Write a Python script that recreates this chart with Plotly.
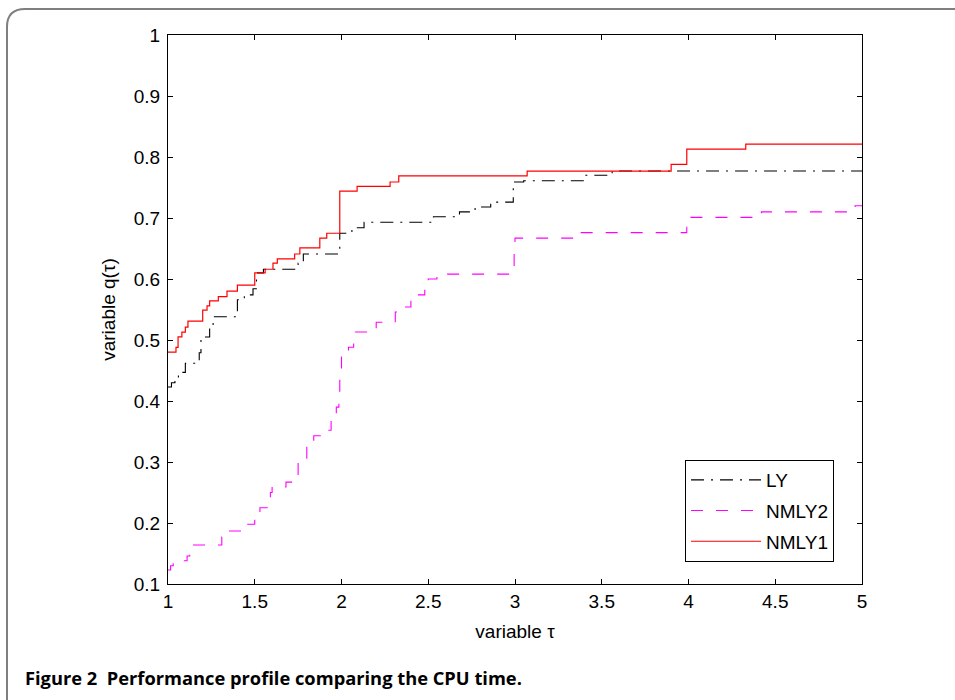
import plotly.graph_objects as go

# ---- data ----
ly_x = [1.0, 1.02, 1.04, 1.06, 1.10, 1.18, 1.19, 1.24, 1.26, 1.40, 1.44, 1.49, 1.51, 1.55,
        1.75, 1.78, 1.99, 2.06, 2.13, 2.53, 2.68, 2.77, 2.86, 2.99, 3.05, 3.40, 3.56, 5.0]
ly_y = [0.423, 0.430, 0.434, 0.447, 0.462, 0.479, 0.505, 0.520, 0.538, 0.566, 0.574, 0.584,
        0.610, 0.616, 0.626, 0.641, 0.675, 0.684, 0.693, 0.702, 0.710, 0.718, 0.726, 0.759,
        0.761, 0.770, 0.777, 0.777]

nmly2_x = [1.0, 1.015, 1.03, 1.11, 1.125, 1.14, 1.31, 1.34, 1.425, 1.50, 1.53, 1.59, 1.60,
           1.68, 1.75, 1.80, 1.84, 1.915, 1.94, 1.97, 1.985, 1.99, 2.0, 2.04, 2.07, 2.08,
           2.20, 2.31, 2.36, 2.40, 2.48, 2.50, 2.55, 2.995, 3.0, 3.37, 3.99, 4.42, 4.96, 5.0]
nmly2_y = [0.123, 0.130, 0.138, 0.146, 0.156, 0.164, 0.177, 0.187, 0.198, 0.216, 0.225,
           0.250, 0.259, 0.267, 0.300, 0.325, 0.343, 0.352, 0.370, 0.390, 0.410, 0.440,
           0.478, 0.488, 0.505, 0.513, 0.529, 0.546, 0.554, 0.574, 0.590, 0.600, 0.608,
           0.640, 0.667, 0.676, 0.701, 0.710, 0.720, 0.720]

nmly1_x = [1.0, 1.046, 1.058, 1.08, 1.10, 1.115, 1.20, 1.225, 1.24, 1.29, 1.34, 1.40, 1.50,
           1.56, 1.605, 1.63, 1.73, 1.76, 1.875, 1.915, 1.99, 2.09, 2.28, 2.33, 3.07, 3.90,
           3.99, 4.33, 5.0]
nmly1_y = [0.480, 0.488, 0.505, 0.513, 0.521, 0.531, 0.549, 0.556, 0.564, 0.571, 0.580,
           0.590, 0.610, 0.616, 0.626, 0.633, 0.641, 0.651, 0.667, 0.675, 0.744, 0.752,
           0.759, 0.769, 0.777, 0.788, 0.813, 0.821, 0.821]

x_ticks = [1, 1.5, 2, 2.5, 3, 3.5, 4, 4.5, 5]
x_ticktext = ["1", "1.5", "2", "2.5", "3", "3.5", "4", "4.5", "5"]
y_ticks = [0.1, 0.2, 0.3, 0.4, 0.5, 0.6, 0.7, 0.8, 0.9, 1.0]
y_ticktext = ["0.1", "0.2", "0.3", "0.4", "0.5", "0.6", "0.7", "0.8", "0.9", "1"]

FONT = "Liberation Sans, Arial, sans-serif"

fig = go.Figure()
fig.add_trace(go.Scatter(x=ly_x, y=ly_y, mode="lines", name="LY", legendgroup="a",
                         line=dict(color="black", width=1.1, shape="hv",
                                   dash="13px,7px,2px,7px")))
fig.add_trace(go.Scatter(x=nmly2_x, y=nmly2_y, mode="lines", name="NMLY2", legendgroup="b",
                         line=dict(color="#ff00ff", width=1.1, shape="hv",
                                   dash="12px,13px")))
fig.add_trace(go.Scatter(x=nmly1_x, y=nmly1_y, mode="lines", name="NMLY1", legendgroup="c",
                         line=dict(color="#ff0000", width=1.2, shape="hv")))

L, R, T, B = 168, 93, 35, 116
W, H = 955, 700
pw, ph = W - L - R, H - T - B

def px(xp):
    return (xp - L) / pw

def py(yp):
    return (H - B - yp) / ph

left, top, right, bottom = px(7), py(9), px(960), py(705)
rx, ry = 18 / pw, 18 / ph
frame_path = (f"M {left},{bottom} L {left},{top - ry} Q {left},{top} {left + rx},{top} "
              f"L {right},{top}")

fig.update_layout(
    width=W, height=H,
    margin=dict(l=L, r=R, t=T, b=B, autoexpand=False),
    paper_bgcolor="white", plot_bgcolor="white",
    font=dict(family=FONT, size=19, color="black"),
    showlegend=True,
    legend=dict(x=px(685), y=py(460), xanchor="left", yanchor="top",
                bgcolor="white", bordercolor="black", borderwidth=1,
                font=dict(family=FONT, size=19, color="black"),
                tracegroupgap=3, itemwidth=70),
    xaxis=dict(range=[1, 5], tickvals=x_ticks, ticktext=x_ticktext,
               showline=True, mirror="ticks", linecolor="black", linewidth=1,
               ticks="inside", ticklen=5, tickcolor="black", showgrid=False,
               zeroline=False,
               title=dict(text="variable τ", standoff=13,
                          font=dict(family=FONT, size=19))),
    yaxis=dict(range=[0.1, 1], tickvals=y_ticks, ticktext=y_ticktext,
               showline=True, mirror="ticks", linecolor="black", linewidth=1,
               ticks="inside", ticklen=5, tickcolor="black", showgrid=False,
               zeroline=False, ticklabelstandoff=3,
               title=dict(text="variable q(τ)", standoff=13,
                          font=dict(family=FONT, size=19))),
    shapes=[dict(type="path", xref="paper", yref="paper", path=frame_path,
                 line=dict(color="#7f7f7f", width=2))],
    annotations=[dict(xref="paper", yref="paper", x=px(23), y=py(677),
                      xanchor="left", yanchor="middle", showarrow=False,
                      text="<b>Figure 2  Performance profile comparing the CPU time.</b>",
                      font=dict(family="Open Sans, Noto Sans, sans-serif", size=18.3,
                                color="black"))],
)

fig.write_html("out.html", config={"displayModeBar": False},
               post_script="document.body.style.margin='0px';document.body.style.overflow='hidden';")
